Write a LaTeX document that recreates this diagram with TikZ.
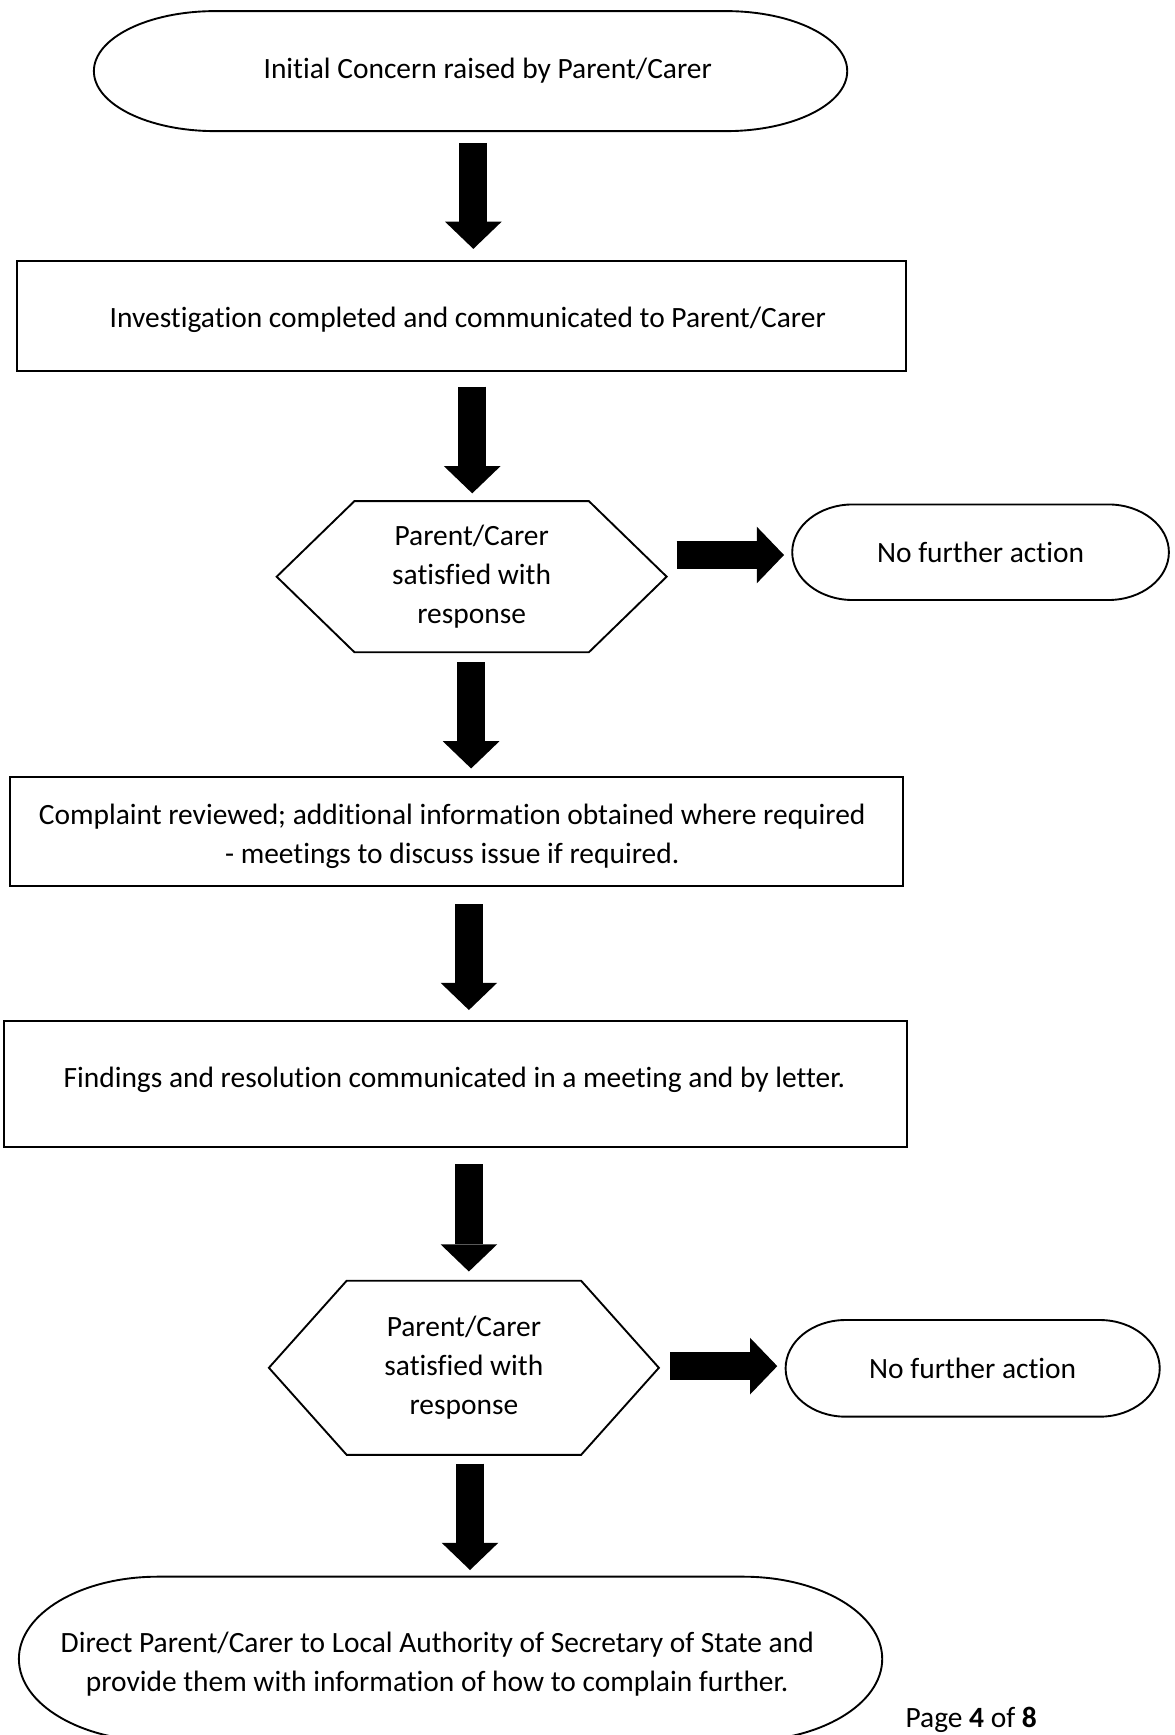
\documentclass[tikz,border=0pt]{standalone}
\usepackage{fontspec}
\setmainfont{Carlito}[Ligatures=NoCommon]
\usetikzlibrary{arrows.meta,calc}
\tikzset{
  outline/.style={draw=black, line width=1.7pt, line join=miter},
  holder/.style={draw=none, inner sep=0pt, outer sep=0pt, align=center, font=\fontsize{26.5}{35}\selectfont},
  boxnode/.style={draw=black, line width=1.7pt, inner sep=0pt, outer sep=0pt},
  txt/.style={inner sep=0pt, outer sep=0pt, align=center, font=\fontsize{26.5}{35}\selectfont},
  blk/.style={draw=black, line width=25pt, -{Triangle[length=24.5pt 0 0, width=51pt 0 0, line width=0pt 0 0]}}
}
\newcommand\termpath[3]{%
  \draw[outline] ($(#1.north west)+(#2,0)$) -- ($(#1.north east)+(-#2,0)$)
    arc[start angle=90, end angle=-90, x radius=#2, y radius=#3]
    -- ($(#1.south west)+(#2,0)$)
    arc[start angle=270, end angle=90, x radius=#2, y radius=#3] -- cycle;}
\newcommand\hexpath[2]{%
  \draw[outline] (#1.west) -- ($(#1.north west)+(#2,0)$) -- ($(#1.north east)+(-#2,0)$)
    -- (#1.east) -- ($(#1.south east)+(-#2,0)$) -- ($(#1.south west)+(#2,0)$) -- cycle;}
\begin{document}
\begin{tikzpicture}[x=1pt, y=1pt]
\useasboundingbox (0,0) rectangle (1057.5,-1561.5);
\clip (0,0) rectangle (1057.5,-1561.5);

% shapes (named nodes)
\node[holder, minimum width=678pt, minimum height=108pt] (n1) at (423.5,-64) {};
\node[boxnode, minimum width=800pt, minimum height=99pt] (n2) at (415,-284.5) {};
\node[holder, minimum width=351pt, minimum height=136pt] (n3) at (424.5,-519) {Parent/Carer\\satisfied with\\response};
\node[holder, minimum width=339pt, minimum height=86pt] (n4) at (882.5,-497) {No further action};
\node[boxnode, minimum width=804pt, minimum height=98pt] (n5) at (411,-748) {};
\node[boxnode, minimum width=812.6pt, minimum height=113.6pt] (n6) at (409.7,-975.8) {};
\node[holder, minimum width=351pt, minimum height=156.7pt] (n7) at (417.5,-1231) {Parent/Carer\\satisfied with\\response};
\node[holder, minimum width=336.7pt, minimum height=87pt] (n8) at (875.4,-1231.5) {No further action};
\node[holder, minimum width=777pt, minimum height=148pt] (n9) at (405.5,-1493) {};

% texts
\node[txt] (n1t) at (439,-64) {Initial Concern raised by Parent/Carer};
\node[txt] (n2t) at (421,-287.5) {Investigation completed and communicated to Parent/Carer};
\node[txt] (n5t) at (407,-753) {Complaint reviewed; additional information obtained where required\\- meetings to discuss issue if required.};
\node[txt] (n6t) at (409,-971.8) {Findings and resolution communicated in a meeting and by letter.};
\node[txt] (n9t) at (393.5,-1497.5) {Direct Parent/Carer to Local Authority of Secretary of State and\\provide them with information of how to complain further.};
\node[txt, anchor=base west] (pg) at (815,-1555) {Page \textbf{4} of \textbf{8}};

% outlines
\termpath{n1}{109}{54}
\hexpath{n3}{70}
\termpath{n4}{54.5}{43}
\hexpath{n7}{70}
\termpath{n8}{54}{43.5}
\termpath{n9}{125}{74}

% block arrows
\draw[blk] ($(n1.south)+(2.5,-10.5)$) -- ($(n2.north)+(11,11)$);
\draw[blk] ($(n2.south)+(10,-14)$) -- ($(n3.north)+(0.5,7)$);
\draw[blk] ($(n3.east)+(9,19.5)$) -- ($(n4.west)+(-7.4,-2.5)$);
\draw[blk] ($(n3.south)+(-0.5,-9)$) -- ($(n5.north)+(13,7.4)$);
\draw[blk] ($(n5.south)+(11,-16.7)$) -- ($(n6.north)+(12.3,10)$);
\draw[blk] ($(n6.south)+(12.3,-15.4)$) -- ($(n7.north)+(4.5,8.3)$);
\draw[blk] ($(n7.east)+(10,1.5)$) -- ($(n8.west)+(-7.5,2)$);
\draw[blk] ($(n7.south)+(5.5,-7.9)$) -- ($(n9.north)+(17.5,6)$);
\end{tikzpicture}
\end{document}
